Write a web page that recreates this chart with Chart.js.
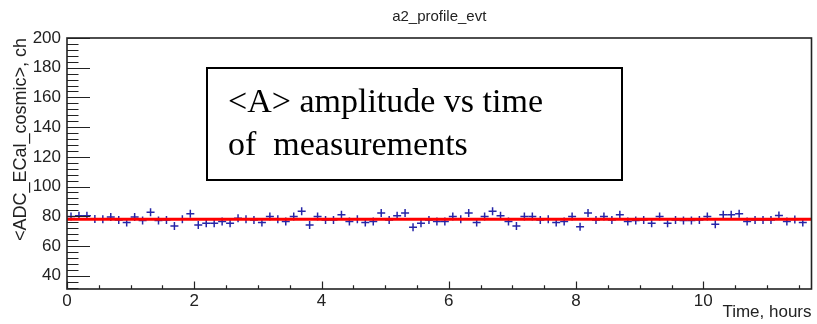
<!DOCTYPE html>
<html><head><meta charset="utf-8">
<script src="https://cdn.jsdelivr.net/npm/chart.js@4/dist/chart.umd.min.js"></script>
<style>html,body{margin:0;padding:0;background:#fff;} canvas{display:block;}</style>
</head><body>
<canvas id="c" width="817" height="324"></canvas>
<script>
const chartTitle = 'a2_profile_evt';
const xTitle = 'Time, hours';
const yTitle = '<ADC_ECal_cosmic>, ch';
const noteLines = ['<A> amplitude vs time', 'of  measurements'];

// bin centres (hours)
const timeHours = [
  0.063,0.188,0.313,0.438,0.563,0.688,0.813,0.938,
  1.063,1.188,1.313,1.438,1.563,1.688,1.813,1.938,
  2.063,2.188,2.313,2.438,2.563,2.688,2.813,2.938,
  3.063,3.188,3.313,3.438,3.563,3.688,3.813,3.938,
  4.063,4.188,4.313,4.438,4.563,4.688,4.813,4.938,
  5.063,5.188,5.313,5.438,5.563,5.688,5.813,5.938,
  6.063,6.188,6.313,6.438,6.563,6.688,6.813,6.938,
  7.063,7.188,7.313,7.438,7.563,7.688,7.813,7.938,
  8.063,8.188,8.313,8.438,8.563,8.688,8.813,8.938,
  9.063,9.188,9.313,9.438,9.563,9.688,9.813,9.938,
  10.063,10.188,10.313,10.438,10.563,10.688,10.813,10.938,
  11.063,11.188,11.313,11.438,11.563
];
// mean ADC per bin
const meanAdc = [
  79.8,80.3,80.3,78.2,78.0,79.4,77.5,75.7,
  79.4,77.1,82.6,77.1,77.5,73.4,78.0,81.7,
  74.1,75.2,75.2,76.4,75.2,78.7,78.0,77.5,
  75.7,79.8,78.0,76.4,79.8,83.3,74.1,79.8,
  77.5,77.5,81.0,76.4,78.0,75.7,76.4,82.1,
  77.5,80.3,82.1,72.5,75.2,77.5,76.4,76.4,
  79.8,78.0,82.1,75.7,79.8,83.3,80.3,76.4,
  73.4,79.8,79.8,77.5,78.0,75.7,76.4,79.8,
  72.9,82.1,77.5,79.8,77.5,81.0,76.4,77.1,
  77.5,75.2,79.8,75.2,77.5,77.1,77.1,77.5,
  79.8,74.6,81.0,81.0,81.7,76.4,77.5,77.5,
  77.5,80.5,76.4,77.8,75.8
];
// fit line
const fitX = [0, 11.7];
const fitY = [78.0, 78.0];

const xTickValues = [0, 2, 4, 6, 8, 10];
const yTickValues = [40, 60, 80, 100, 120, 140, 160, 180, 200];
const xRange = [0, 11.7];
const yRange = [31, 200];

const FONT = '"Liberation Sans", Arial, Helvetica, sans-serif';

const rootFrame = {
  id: 'rootFrame',
  afterDatasetsDraw(chart) {
    const {ctx, chartArea: a, scales: {x, y}} = chart;
    ctx.save();
    ctx.strokeStyle = '#222';
    ctx.lineWidth = 1.2;
    ctx.beginPath();
    // y ticks (inside)
    for (let v = 32; v <= yRange[1]; v += 4) {
      const py = Math.round(y.getPixelForValue(v)) + 0.5;
      const major = yTickValues.includes(v);
      ctx.moveTo(a.left, py);
      ctx.lineTo(a.left + (major ? 23 : 11.5), py);
    }
    // x ticks (inside)
    for (let v = 0; v <= xRange[1] + 1e-9; v += 0.5) {
      const px = Math.round(x.getPixelForValue(v)) + 0.5;
      const major = xTickValues.includes(v);
      ctx.moveTo(px, a.bottom);
      ctx.lineTo(px, a.bottom - (major ? 7.5 : 3.8));
    }
    ctx.stroke();
    ctx.lineWidth = 1.6;
    ctx.strokeRect(a.left, a.top, a.right - a.left, a.bottom - a.top);
    ctx.restore();
  },
  afterDraw(chart) {
    const {ctx, chartArea: a} = chart;
    ctx.save();
    ctx.fillStyle = '#222';
    ctx.font = '15px ' + FONT;
    ctx.textAlign = 'center';
    ctx.textBaseline = 'middle';
    ctx.fillText(chartTitle, (a.left + a.right) / 2, 17);
    // annotation box
    ctx.fillStyle = '#fff';
    ctx.fillRect(207, 68, 415, 112);
    ctx.strokeStyle = '#000';
    ctx.lineWidth = 2;
    ctx.strokeRect(207, 68, 415, 112);
    ctx.fillStyle = '#000';
    ctx.font = '34px "Liberation Serif", "Times New Roman", serif';
    ctx.textAlign = 'left';
    ctx.textBaseline = 'alphabetic';
    ctx.fillText(noteLines[0], 228, 112);
    ctx.fillText(noteLines[1], 228, 155);
    ctx.restore();
  }
};

new Chart(document.getElementById('c'), {
  type: 'scatter',
  data: {
    datasets: [
      {
        type: 'line',
        data: fitX.map((v, i) => ({x: v, y: fitY[i]})),
        borderColor: '#ff0000',
        borderWidth: 3,
        pointRadius: 0,
        fill: false,
        tension: 0
      },
      {
        data: timeHours.map((v, i) => ({x: v, y: meanAdc[i]})),
        pointStyle: 'cross',
        pointRadius: 4,
        borderColor: '#2626a8',
        backgroundColor: '#2626a8',
        pointBorderWidth: 1.5,
        showLine: false
      }
    ]
  },
  options: {
    responsive: false,
    animation: false,
    devicePixelRatio: 1,
    layout: {padding: {top: 38, right: 1, left: 0, bottom: 0}},
    plugins: {legend: {display: false}, title: {display: false}, tooltip: {enabled: false}},
    scales: {
      x: {
        type: 'linear', position: 'bottom', min: xRange[0], max: xRange[1],
        afterBuildTicks: s => { s.ticks = xTickValues.map(v => ({value: v})); },
        afterFit: s => { s.height = 35; },
        grid: {display: false, drawTicks: false},
        border: {display: false},
        ticks: {color: '#222', font: {family: FONT, size: 17}, padding: 2, maxRotation: 0, autoSkip: false},
        title: {display: true, text: xTitle, align: 'end', color: '#222', font: {family: FONT, size: 17}, padding: {top: 0, bottom: 1}}
      },
      y: {
        type: 'linear', min: yRange[0], max: yRange[1],
        afterBuildTicks: s => { s.ticks = yTickValues.map(v => ({value: v})); },
        afterFit: s => { s.width = 67; },
        grid: {display: false, drawTicks: false},
        border: {display: false},
        ticks: {color: '#222', font: {family: FONT, size: 17}, padding: 6},
        title: {display: true, text: yTitle, align: 'end', color: '#222', font: {family: FONT, size: 18}, padding: {top: 10, bottom: 0}}
      }
    }
  },
  plugins: [rootFrame]
});
</script>
</body></html>
